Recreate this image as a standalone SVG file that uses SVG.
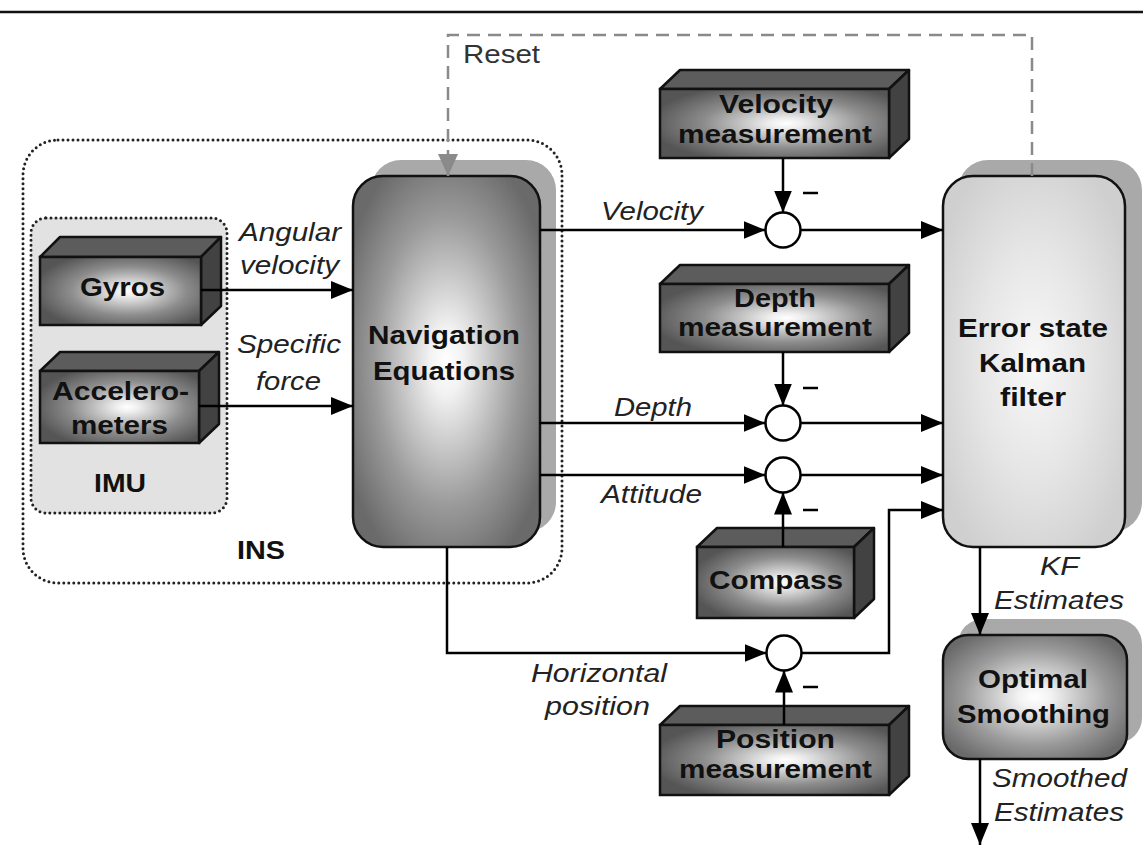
<svg xmlns="http://www.w3.org/2000/svg" width="1143" height="857" viewBox="0 0 1143 857">
<defs>
<radialGradient id="gFront" cx="55%" cy="50%" r="60%">
<stop offset="0" stop-color="#ffffff"/>
<stop offset="0.12" stop-color="#eeeeee"/>
<stop offset="0.6" stop-color="#8c8c8c"/>
<stop offset="1" stop-color="#555555"/>
</radialGradient>
<radialGradient id="gNav" cx="50%" cy="50%" r="60%">
<stop offset="0" stop-color="#ffffff"/>
<stop offset="0.15" stop-color="#f2f2f2"/>
<stop offset="0.65" stop-color="#9a9a9a"/>
<stop offset="1" stop-color="#6a6a6a"/>
</radialGradient>
<radialGradient id="gKal" cx="50%" cy="50%" r="60%">
<stop offset="0" stop-color="#f8f8f8"/>
<stop offset="0.5" stop-color="#e6e6e6"/>
<stop offset="1" stop-color="#cfcfcf"/>
</radialGradient>
<marker id="arr" markerUnits="userSpaceOnUse" markerWidth="22" markerHeight="18" refX="22" refY="9" orient="auto">
<path d="M0,0 L22,9 L0,18 z" fill="#000"/>
</marker>
<marker id="arrG" markerUnits="userSpaceOnUse" markerWidth="22" markerHeight="20" refX="22" refY="10" orient="auto">
<path d="M0,0 L22,10 L0,20 z" fill="#8a8a8a"/>
</marker>
<style>
.b{font-family:"Liberation Sans",Arial,sans-serif;font-weight:bold;font-size:26px;fill:#111;}
.i{font-family:"Liberation Sans",Arial,sans-serif;font-style:italic;font-size:26px;fill:#222;}
.r{font-family:"Liberation Sans",Arial,sans-serif;font-size:26px;fill:#333;}
.front{fill:url(#gFront);stroke:#111;stroke-width:2.5;}
.top{fill:#5c5c5c;stroke:#111;stroke-width:2.5;stroke-linejoin:round;}
.side{fill:#424242;stroke:#111;stroke-width:2.5;stroke-linejoin:round;}
.dot{fill:none;stroke:#222;stroke-width:3;stroke-dasharray:0 5;stroke-linecap:round;}
.shadow{fill:#a9a9a9;}
.ln{fill:none;stroke:#000;stroke-width:2.5;}
.sum{fill:#fff;stroke:#000;stroke-width:2.5;}
.minus{stroke:#000;stroke-width:2.5;}
</style>
</defs>
<rect width="1143" height="857" fill="#fff"/>
<line x1="0" y1="12" x2="1143" y2="12" stroke="#111" stroke-width="2.5"/>

<g id="ins">
<rect class="dot" x="23" y="140" width="539" height="443" rx="35"/>
<text class="b" x="237" y="559" textLength="48" lengthAdjust="spacingAndGlyphs">INS</text>
</g>

<g id="imu">
<rect x="31" y="218" width="196" height="295" rx="15" fill="#e2e2e2"/>
<rect class="dot" x="31" y="218" width="196" height="295" rx="15"/>
<text class="b" x="94" y="492" textLength="52" lengthAdjust="spacingAndGlyphs">IMU</text>
</g>

<g id="gyros">
<polygon class="top" points="40,257 60,237 221,237 201,257"/>
<polygon class="side" points="201,257 221,237 221,306 201,325"/>
<rect class="front" x="40" y="257" width="161" height="68"/>
<text class="b" x="80" y="296" textLength="85" lengthAdjust="spacingAndGlyphs">Gyros</text>
</g>

<g id="accelerometers">
<polygon class="top" points="40,371 60,352 219,352 199,371"/>
<polygon class="side" points="199,371 219,352 219,424 199,443"/>
<rect class="front" x="40" y="371" width="159" height="72"/>
<text class="b" x="52" y="400" textLength="137" lengthAdjust="spacingAndGlyphs">Accelero-</text>
<text class="b" x="71" y="434" textLength="97" lengthAdjust="spacingAndGlyphs">meters</text>
</g>

<g id="nav">
<rect class="shadow" x="371" y="160" width="185" height="372" rx="30"/>
<rect x="353" y="176" width="187" height="371" rx="30" fill="url(#gNav)" stroke="#111" stroke-width="2.5"/>
<text class="b" x="368" y="344" textLength="152" lengthAdjust="spacingAndGlyphs">Navigation</text>
<text class="b" x="373" y="380" textLength="142" lengthAdjust="spacingAndGlyphs">Equations</text>
</g>

<g id="velmeas">
<polygon class="top" points="660,89 680,70 909,70 889,89"/>
<polygon class="side" points="889,89 909,70 909,139 889,158"/>
<rect class="front" x="660" y="89" width="229" height="69"/>
<text class="b" x="719" y="113" textLength="114" lengthAdjust="spacingAndGlyphs">Velocity</text>
<text class="b" x="678" y="143" textLength="194" lengthAdjust="spacingAndGlyphs">measurement</text>
</g>

<g id="depthmeas">
<polygon class="top" points="660,284 680,265 909,265 889,284"/>
<polygon class="side" points="889,284 909,265 909,333 889,352"/>
<rect class="front" x="660" y="284" width="229" height="68"/>
<text class="b" x="734" y="307" textLength="82" lengthAdjust="spacingAndGlyphs">Depth</text>
<text class="b" x="678" y="336" textLength="194" lengthAdjust="spacingAndGlyphs">measurement</text>
</g>

<g id="compass">
<polygon class="top" points="697,547 717,528 874,528 854,547"/>
<polygon class="side" points="854,547 874,528 874,599 854,618"/>
<rect class="front" x="697" y="547" width="157" height="71"/>
<text class="b" x="709" y="589" textLength="134" lengthAdjust="spacingAndGlyphs">Compass</text>
</g>

<g id="posmeas">
<polygon class="top" points="660,725 680,706 909,706 889,725"/>
<polygon class="side" points="889,725 909,706 909,776 889,795"/>
<rect class="front" x="660" y="725" width="229" height="70"/>
<text class="b" x="716" y="748" textLength="119" lengthAdjust="spacingAndGlyphs">Position</text>
<text class="b" x="679" y="778" textLength="193" lengthAdjust="spacingAndGlyphs">measurement</text>
</g>

<g id="kalman">
<rect class="shadow" x="958" y="160" width="184" height="372" rx="30"/>
<rect x="943" y="176" width="182" height="371" rx="30" fill="url(#gKal)" stroke="#111" stroke-width="2.5"/>
<text class="b" x="958" y="337" textLength="150" lengthAdjust="spacingAndGlyphs">Error state</text>
<text class="b" x="979" y="372" textLength="107" lengthAdjust="spacingAndGlyphs">Kalman</text>
<text class="b" x="1000" y="406" textLength="66" lengthAdjust="spacingAndGlyphs">filter</text>
</g>

<g id="smoothing">
<rect class="shadow" x="958" y="619" width="184" height="124" rx="25"/>
<rect x="943" y="635" width="184" height="124" rx="25" fill="url(#gNav)" stroke="#111" stroke-width="2.5"/>
<text class="b" x="978" y="688" textLength="110" lengthAdjust="spacingAndGlyphs">Optimal</text>
<text class="b" x="957" y="723" textLength="153" lengthAdjust="spacingAndGlyphs">Smoothing</text>
</g>

<g id="sum-velocity"><circle class="sum" cx="783" cy="230" r="17.5"/></g>
<g id="sum-depth"><circle class="sum" cx="783" cy="423" r="17.5"/></g>
<g id="sum-attitude"><circle class="sum" cx="783" cy="475" r="17.5"/></g>
<g id="sum-position"><circle class="sum" cx="784" cy="653" r="17.5"/></g>

<g id="connectors">
<path d="M1032,176 L1032,35 L448,35 L448,176" fill="none" stroke="#8a8a8a" stroke-width="2.5" stroke-dasharray="13 8" marker-end="url(#arrG)"/>
<line class="ln" x1="201" y1="290" x2="353" y2="290" marker-end="url(#arr)"/>
<line class="ln" x1="199" y1="406" x2="353" y2="406" marker-end="url(#arr)"/>
<line class="ln" x1="540" y1="230" x2="765.5" y2="230" marker-end="url(#arr)"/>
<line class="ln" x1="800.5" y1="230" x2="943" y2="230" marker-end="url(#arr)"/>
<line class="ln" x1="783" y1="158" x2="783" y2="212.5" marker-end="url(#arr)"/>
<line class="ln" x1="540" y1="423" x2="765.5" y2="423" marker-end="url(#arr)"/>
<line class="ln" x1="800.5" y1="423" x2="943" y2="423" marker-end="url(#arr)"/>
<line class="ln" x1="783" y1="352" x2="783" y2="405.5" marker-end="url(#arr)"/>
<line class="ln" x1="540" y1="475" x2="765.5" y2="475" marker-end="url(#arr)"/>
<line class="ln" x1="800.5" y1="475" x2="943" y2="475" marker-end="url(#arr)"/>
<line class="ln" x1="783" y1="547" x2="783" y2="492.5" marker-end="url(#arr)"/>
<line class="ln" x1="784" y1="725" x2="784" y2="670.5" marker-end="url(#arr)"/>
<path class="ln" d="M447,547 L447,653 L766.5,653" marker-end="url(#arr)"/>
<path class="ln" d="M801.5,653 L889,653 L889,510 L943,510" marker-end="url(#arr)"/>
<line class="ln" x1="980" y1="547" x2="980" y2="635" marker-end="url(#arr)"/>
<line class="ln" x1="980" y1="759" x2="980" y2="845" marker-end="url(#arr)"/>
<line class="minus" x1="803" y1="193" x2="818" y2="193"/>
<line class="minus" x1="803" y1="388" x2="818" y2="388"/>
<line class="minus" x1="803" y1="510" x2="818" y2="510"/>
<line class="minus" x1="803" y1="687" x2="818" y2="687"/>
</g>

<g id="labels">
<text class="r" x="463" y="63" textLength="77" lengthAdjust="spacingAndGlyphs">Reset</text>
<text class="i" x="239" y="241" textLength="102" lengthAdjust="spacingAndGlyphs">Angular</text>
<text class="i" x="240" y="274" textLength="99" lengthAdjust="spacingAndGlyphs">velocity</text>
<text class="i" x="237" y="353" textLength="104" lengthAdjust="spacingAndGlyphs">Specific</text>
<text class="i" x="256" y="390" textLength="65" lengthAdjust="spacingAndGlyphs">force</text>
<text class="i" x="601" y="220" textLength="102" lengthAdjust="spacingAndGlyphs">Velocity</text>
<text class="i" x="614" y="416" textLength="78" lengthAdjust="spacingAndGlyphs">Depth</text>
<text class="i" x="601" y="503" textLength="101" lengthAdjust="spacingAndGlyphs">Attitude</text>
<text class="i" x="531" y="682" textLength="136" lengthAdjust="spacingAndGlyphs">Horizontal</text>
<text class="i" x="545" y="715" textLength="105" lengthAdjust="spacingAndGlyphs">position</text>
<text class="i" x="1040" y="575" textLength="39" lengthAdjust="spacingAndGlyphs">KF</text>
<text class="i" x="994" y="609" textLength="130" lengthAdjust="spacingAndGlyphs">Estimates</text>
<text class="i" x="992" y="787" textLength="135" lengthAdjust="spacingAndGlyphs">Smoothed</text>
<text class="i" x="994" y="821" textLength="130" lengthAdjust="spacingAndGlyphs">Estimates</text>
</g>
</svg>
